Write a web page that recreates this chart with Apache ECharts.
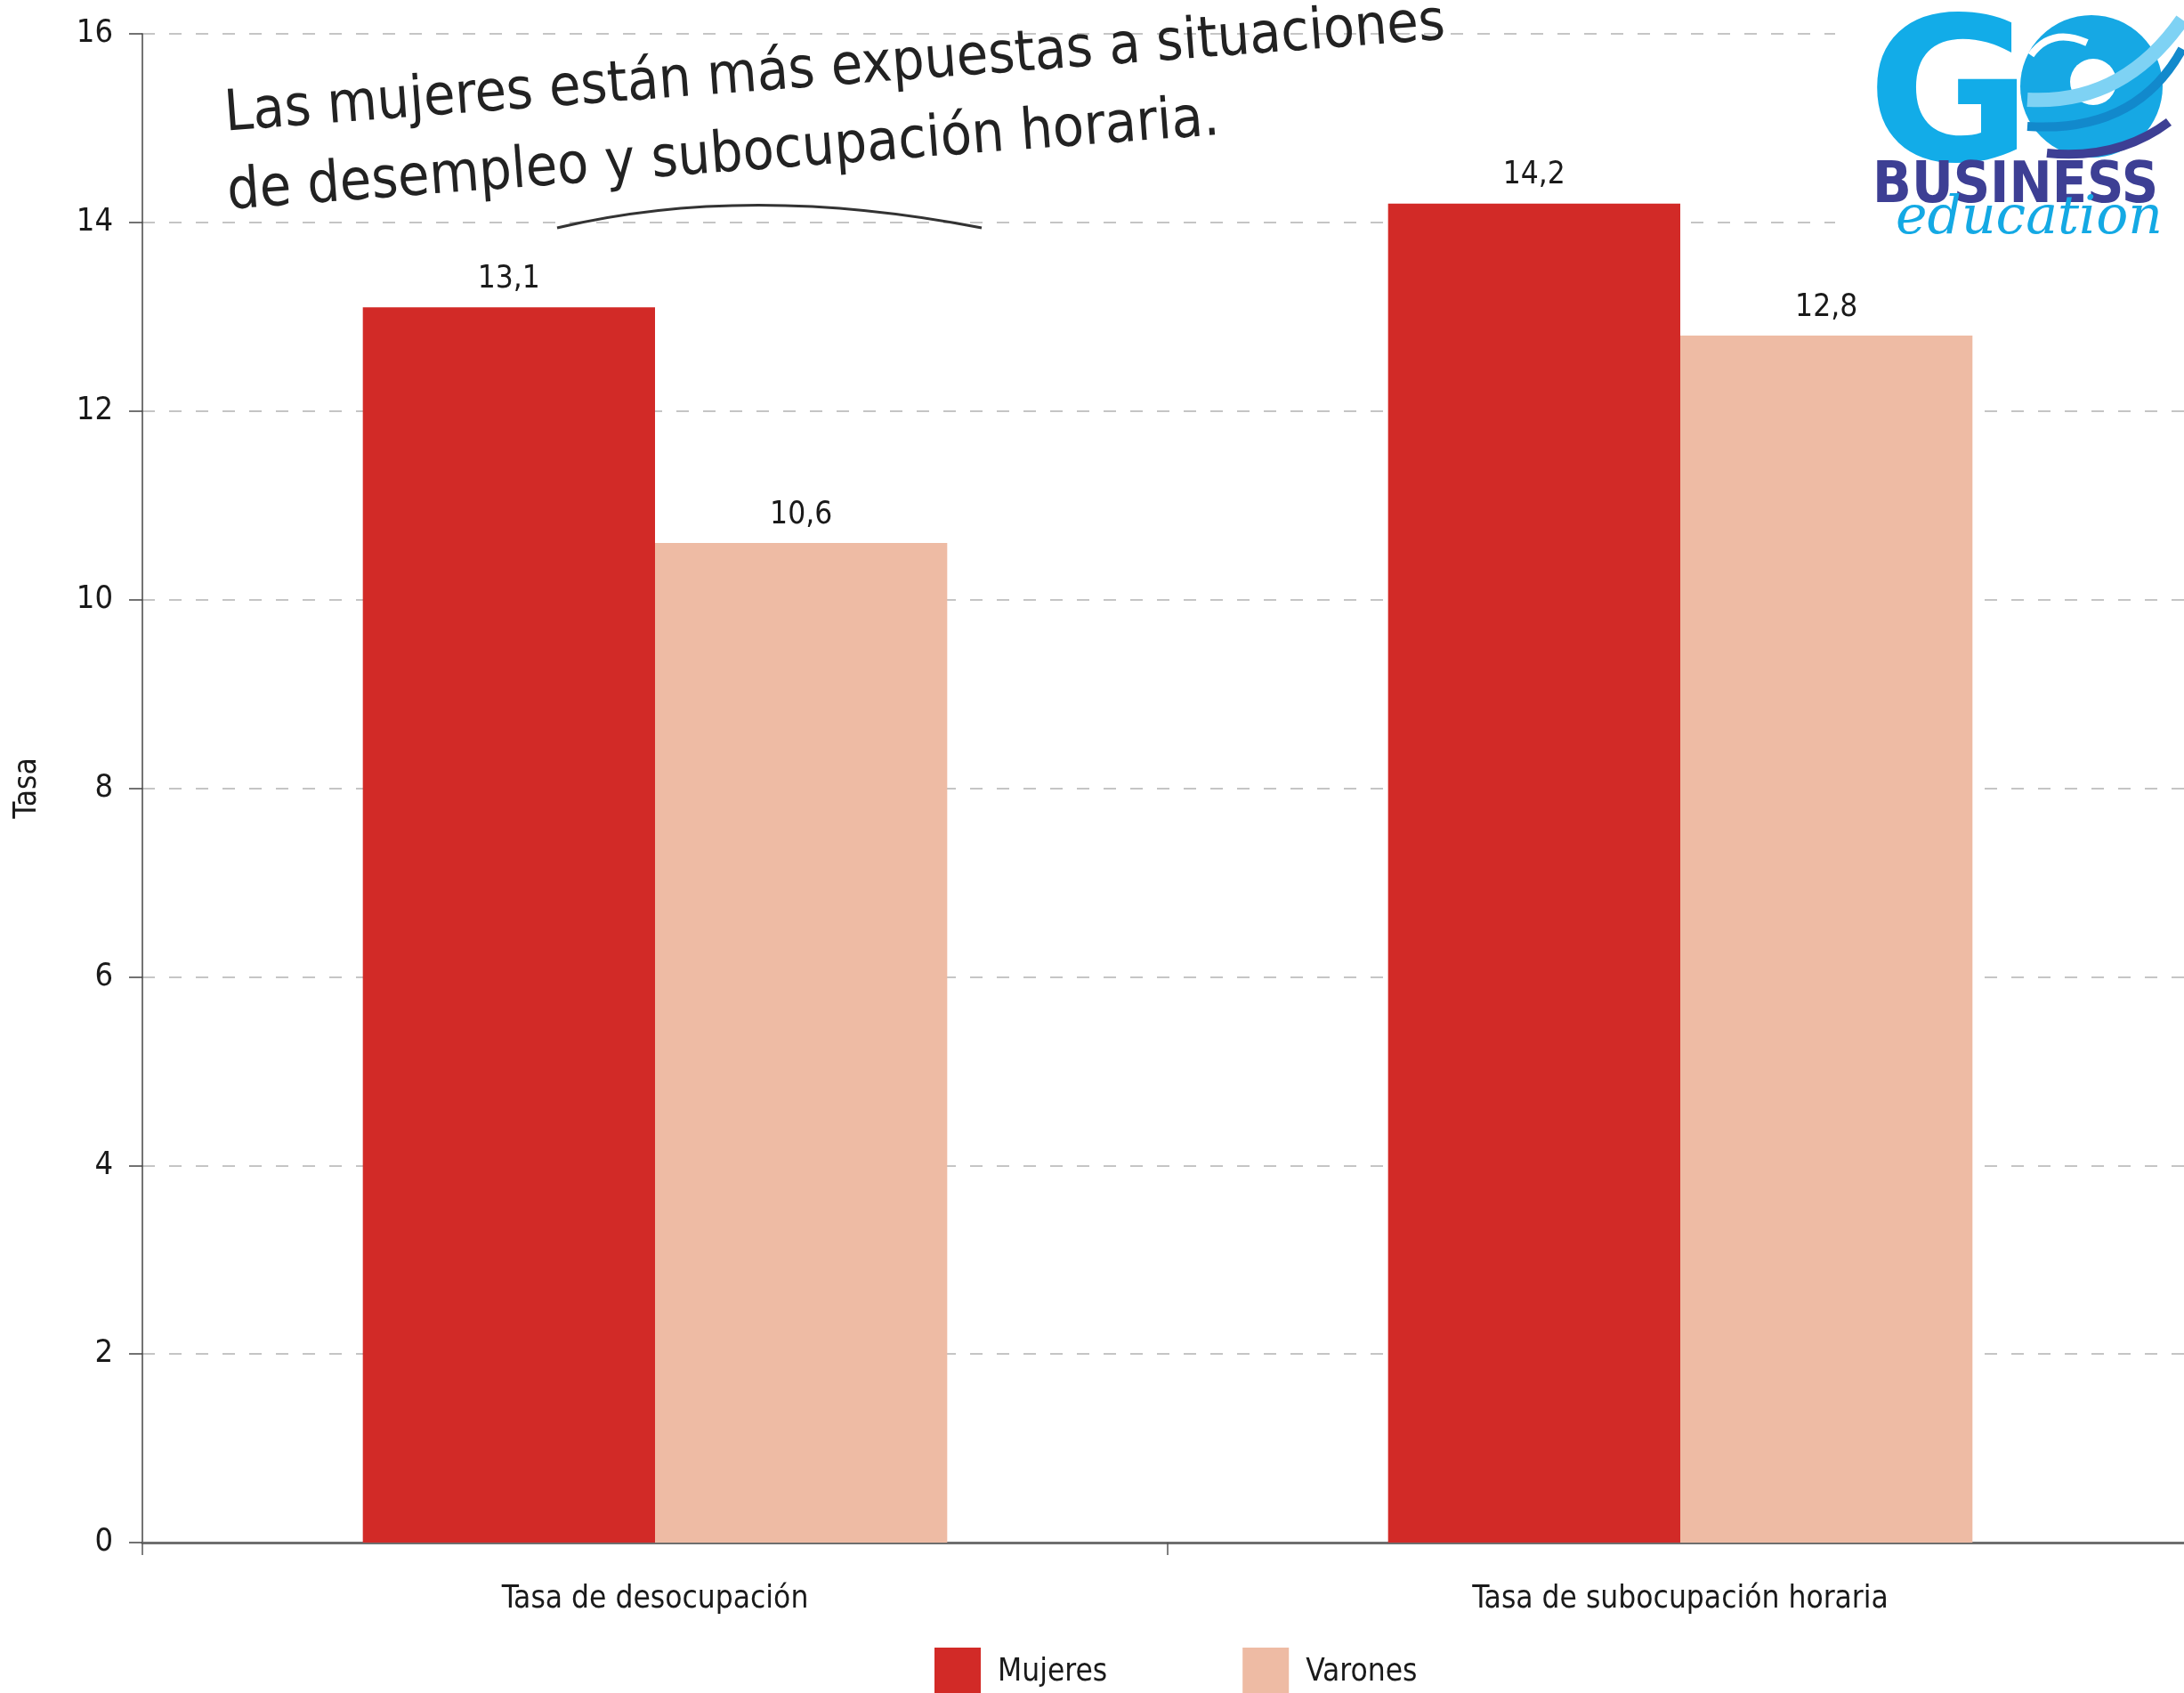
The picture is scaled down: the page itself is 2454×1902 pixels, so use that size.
<!DOCTYPE html>
<html>
<head>
<meta charset="utf-8">
<script src="https://cdn.jsdelivr.net/npm/echarts@6/dist/echarts.min.js"></script>
<style>
  html, body { margin: 0; padding: 0; background: #fff; }
  #chartBox { width: 2454px; height: 1902px; }
</style>
</head>
<body>
<div id="chartBox"></div>
<script>
// datos del gráfico
const categorias = ['Tasa de desocupación', 'Tasa de subocupación horaria'];
const mujeres = [13.1, 14.2];
const varones = [10.6, 12.8];
const yTicks = [0, 2, 4, 6, 8, 10, 12, 14, 16];
const nota = ['Las mujeres están más expuestas a situaciones', 'de desempleo y subocupación horaria.'];

const fuente = "'Liberation Sans Narrow', 'DejaVu Sans Condensed', sans-serif";
const coma = (p) => String(p.value).replace('.', ',');

const myChart = echarts.init(document.getElementById('chartBox'));
const giro = 4.3 * Math.PI / 180;

myChart.setOption({
  backgroundColor: '#fff',
  animation: false,
  textStyle: { fontFamily: fuente },
  grid: { left: 160, top: 38, width: 2304, bottom: 169, outerBoundsMode: 'none' },
  legend: {
    left: 1050,
    top: 1851,
    padding: 0,
    itemWidth: 52,
    itemHeight: 56,
    itemGap: 152,
    icon: 'rect',
    textStyle: { fontSize: 35, color: '#1a1a1a', fontFamily: fuente, padding: [0, 0, 0, 14] },
    data: ['Mujeres', 'Varones']
  },
  xAxis: {
    type: 'category',
    data: categorias,
    axisLine: { lineStyle: { color: '#6e6e6e', width: 3 } },
    axisTick: { show: true, length: 14, lineStyle: { color: '#555', width: 1.5 } },
    axisLabel: { fontSize: 35, color: '#1a1a1a', margin: 46, fontFamily: fuente },
    splitLine: { show: false }
  },
  yAxis: {
    type: 'value',
    min: yTicks[0],
    max: yTicks[yTicks.length - 1],
    interval: yTicks[1] - yTicks[0],
    name: 'Tasa',
    nameLocation: 'middle',
    nameRotate: 90,
    nameGap: 112,
    nameTextStyle: { fontSize: 35, color: '#1a1a1a', fontFamily: fuente },
    axisLine: { show: true, lineStyle: { color: '#444', width: 1.5 } },
    axisTick: { show: true, length: 15, lineStyle: { color: '#444', width: 1.5 } },
    axisLabel: { fontSize: 36, color: '#1a1a1a', margin: 33, fontFamily: fuente },
    splitLine: { show: true, lineStyle: { color: '#b3b3b3', width: 1.5, type: [14, 16] } }
  },
  series: [
    {
      name: 'Mujeres',
      type: 'bar',
      data: mujeres,
      barGap: '0%',
      barCategoryGap: '43%',
      itemStyle: { color: '#D22A27' },
      label: { show: true, position: 'top', distance: 14, fontSize: 35, color: '#1a1a1a', fontFamily: fuente, formatter: coma }
    },
    {
      name: 'Varones',
      type: 'bar',
      data: varones,
      itemStyle: { color: '#EEBBA4' },
      label: { show: true, position: 'top', distance: 14, fontSize: 35, color: '#1a1a1a', fontFamily: fuente, formatter: coma }
    }
  ],
  graphic: [
    // nota manuscrita
    {
      type: 'text', x: 255, y: 162, rotation: giro, z: 10,
      style: { text: nota[0], x: 0, y: 0, align: 'left', verticalAlign: 'bottom', fill: '#222',
        font: "64px 'Liberation Sans Narrow', 'DejaVu Sans Condensed', sans-serif" }
    },
    {
      type: 'text', x: 258, y: 250, rotation: giro, z: 10,
      style: { text: nota[1], x: 0, y: 0, align: 'left', verticalAlign: 'bottom', fill: '#222',
        font: "64px 'Liberation Sans Narrow', 'DejaVu Sans Condensed', sans-serif" }
    },
    {
      type: 'bezierCurve', z: 10,
      shape: { x1: 626, y1: 256, x2: 1103, y2: 256, cpx1: 840, cpy1: 205 },
      style: { stroke: '#333', lineWidth: 3, fill: null }
    },
    // logo
    {
      type: 'rect', z: 20,
      shape: { x: 2062, y: 0, width: 392, height: 272 },
      style: { fill: '#fff' }
    },
    {
      type: 'text', z: 21,
      style: { text: 'G', x: 2098, y: 234, verticalAlign: 'bottom', fill: '#12ACE8',
        font: "bold 225px 'DejaVu Sans', sans-serif" }
    },
    {
      type: 'circle', z: 21,
      shape: { cx: 2350, cy: 97, r: 80 },
      style: { fill: '#16A8E4' }
    },
    {
      type: 'circle', z: 22,
      shape: { cx: 2352, cy: 92, r: 26 },
      style: { fill: '#fff' }
    },
    {
      type: 'bezierCurve', z: 23,
      shape: { x1: 2278, y1: 112, x2: 2452, y2: 22, cpx1: 2385, cpy1: 118 },
      style: { stroke: '#7ED2F4', lineWidth: 16, fill: null }
    },
    {
      type: 'bezierCurve', z: 23,
      shape: { x1: 2278, y1: 142, x2: 2452, y2: 55, cpx1: 2400, cpy1: 150 },
      style: { stroke: '#1289CC', lineWidth: 10, fill: null }
    },
    {
      type: 'bezierCurve', z: 23,
      shape: { x1: 2300, y1: 172, x2: 2437, y2: 137, cpx1: 2380, cpy1: 180 },
      style: { stroke: '#3D3F94', lineWidth: 10, fill: null }
    },
    {
      type: 'bezierCurve', z: 23,
      shape: { x1: 2282, y1: 62, x2: 2345, y2: 48, cpx1: 2305, cpy1: 30 },
      style: { stroke: '#fff', lineWidth: 8, fill: null }
    },
    {
      type: 'text', z: 24,
      style: { text: 'BUSINESS', x: 2104, y: 242, verticalAlign: 'bottom', fill: '#3D3F94',
        font: "bold 64px 'DejaVu Sans Condensed', 'DejaVu Sans', sans-serif" }
    },
    {
      type: 'text', z: 25,
      style: { text: 'education', x: 2130, y: 276, verticalAlign: 'bottom', fill: '#14A9E4',
        font: "italic 60px 'DejaVu Serif', serif" }
    }
  ]
});
</script>
</body>
</html>
